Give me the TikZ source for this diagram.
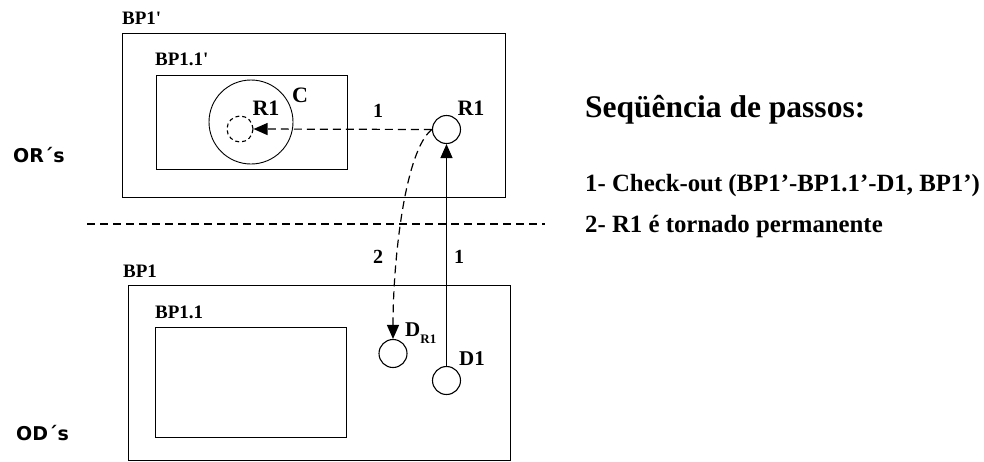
\documentclass[tikz,border=0pt]{standalone}
\usepackage{fontspec}
\setmainfont{Liberation Serif}
\newfontfamily\labsans{DejaVu Sans}
\usetikzlibrary{arrows.meta}
\begin{document}
\begin{tikzpicture}[x=1pt,y=-1pt,
  box/.style={draw, line width=1.3pt, inner sep=0, anchor=north west},
  ring/.style={draw, circle, line width=1.1pt, inner sep=0},
  lab/.style={font=\bfseries\fontsize{19}{19}\selectfont, inner sep=0},
  big/.style={font=\bfseries\fontsize{22}{22}\selectfont, inner sep=0},
  side/.style={font=\labsans\bfseries\fontsize{19}{19}\selectfont, inner sep=0, anchor=west},
  txt/.style={font=\bfseries\fontsize{24.8}{24.8}\selectfont, inner sep=0, anchor=base west},
  dsh/.style={line width=1.2pt, dash pattern=on 8pt off 5pt},
  tip/.style={-{Triangle[length=14pt,width=12pt]}},
]
\useasboundingbox (0,0) rectangle (984,461);
% boxes
\node[box, minimum width=383pt, minimum height=164pt] (bp1p) at (122,33) {};
\node[box, minimum width=191pt, minimum height=94pt] (bp11p) at (156,75) {};
\node[box, minimum width=382pt, minimum height=175pt] (bp1) at (128,285) {};
\node[box, minimum width=191pt, minimum height=110pt] (bp11) at (155,327) {};
% circles
\node[ring, minimum size=84pt, line width=0.9pt] (cC) at (251,122) {};
\node[ring, minimum size=26pt, dash pattern=on 4pt off 3pt] (r1c) at (240,129) {};
\node[ring, minimum size=28pt] (r1) at (446.5,129.5) {};
\node[ring, minimum size=28pt] (dr1) at (393,353.5) {};
\node[ring, minimum size=28pt] (d1) at (446.5,380.5) {};
% separator
\coordinate (sepL) at (87,224);
\coordinate (sepR) at (545,224);
\draw[dsh] (sepL) -- (sepR);
% connectors
\draw[line width=1.3pt, tip] (d1.north) -- (r1.south);
\draw[dsh, tip] (r1.west) -- (r1c.east);
\draw[dsh, tip] (r1.west) .. controls (405,150) and (393,260) .. (dr1.north);
% labels
\node[lab, anchor=west] (lbp1p) at (122,18) {BP1\textquotesingle};
\node[lab, anchor=west] (lbp11p) at (155,59) {BP1.1\textquotesingle};
\node[lab, anchor=west] (lbp1) at (123,271) {BP1};
\node[lab, anchor=west] (lbp11) at (155,312) {BP1.1};
\node[big] (lr1in) at (266,108) {R1};
\node[big] (lc) at (300,95) {C};
\node[lab, font=\bfseries\fontsize{20}{20}\selectfont] (l1a) at (378,111) {1};
\node[big] (lr1) at (471,108) {R1};
\node[lab, font=\bfseries\fontsize{20}{20}\selectfont] (l2) at (378,257) {2};
\node[lab, font=\bfseries\fontsize{20}{20}\selectfont] (l1b) at (459,257) {1};
\node[big, anchor=west, font=\bfseries\fontsize{21}{21}\selectfont] (ldr1) at (405,333) {D\raisebox{-7pt}{\fontsize{13}{13}\selectfont R1}};
\node[big, font=\bfseries\fontsize{21}{21}\selectfont] (ld1) at (472,359) {D1};
\node[side] (lor) at (13,155) {OR´s};
\node[side] (lod) at (16,433) {OD´s};
% right text
\node[txt, font=\bfseries\fontsize{31.5}{31.5}\selectfont] (title) at (585,117) {Seqüência de passos:};
\node[txt] (step1) at (585,191) {1- Check-out (BP1’-BP1.1’-D1, BP1’)};
\node[txt] (step2) at (585,232) {2- R1 é tornado permanente};
\end{tikzpicture}
\end{document}
